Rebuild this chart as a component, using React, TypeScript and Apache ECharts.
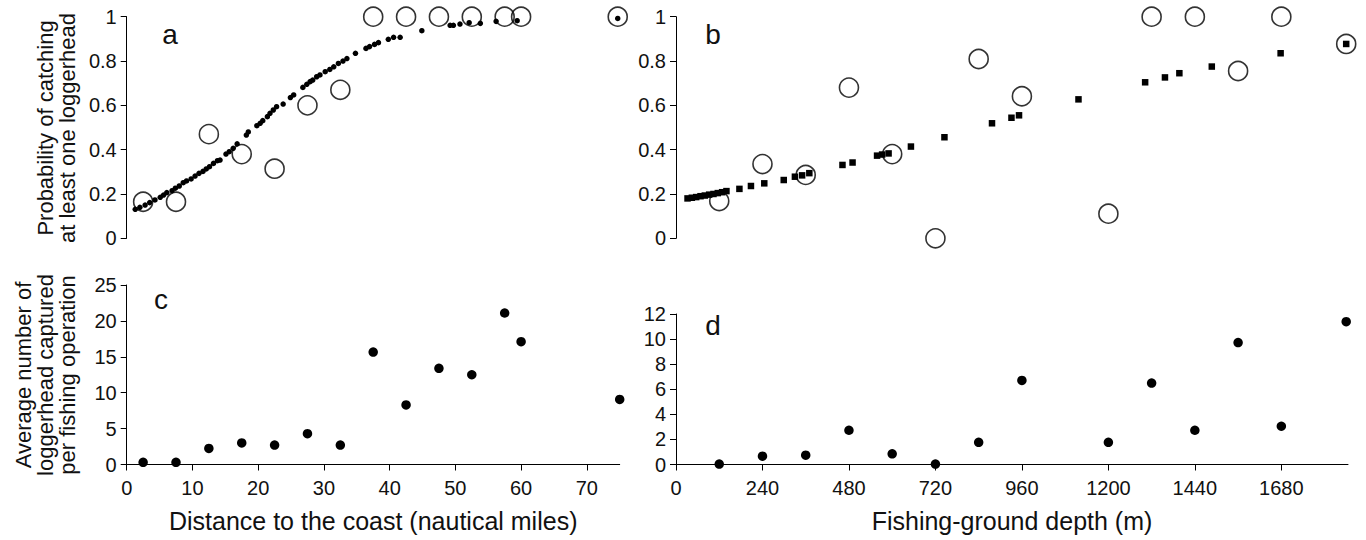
import React, { useEffect, useRef } from "react";
import * as echarts from "echarts";

// Panel a: probability vs distance to coast
const distObserved: [number, number][] = [
  [2.5, 0.165], [7.5, 0.165], [12.5, 0.47], [17.5, 0.38], [22.5, 0.314],
  [27.5, 0.6], [32.5, 0.67], [37.5, 1], [42.5, 1], [47.5, 1], [52.5, 1],
  [57.5, 1], [60, 1], [74.7, 1],
];
const distFitted: [number, number][] = [
  [1.3, 0.131], [2.0, 0.14], [2.8, 0.15], [3.5, 0.161], [4.3, 0.173], [5.1, 0.185],
  [5.6, 0.195], [6.1, 0.206], [6.9, 0.215], [7.4, 0.226], [8.0, 0.236], [8.6, 0.251],
  [9.1, 0.259], [9.8, 0.268], [10.4, 0.281], [11.0, 0.293], [11.6, 0.302], [12.1, 0.313],
  [12.6, 0.323], [13.2, 0.338], [13.8, 0.35], [14.2, 0.353], [15.1, 0.38], [15.6, 0.391],
  [16.2, 0.406], [16.8, 0.426], [18.2, 0.466], [18.5, 0.48], [19.8, 0.508], [20.3, 0.519],
  [20.7, 0.531], [21.4, 0.549], [21.8, 0.564], [22.3, 0.579], [22.8, 0.594], [23.8, 0.606],
  [24.9, 0.635], [25.4, 0.647], [26.8, 0.681], [27.4, 0.695], [27.9, 0.707], [28.3, 0.714],
  [28.9, 0.729], [29.4, 0.737], [30.2, 0.752], [30.9, 0.762], [31.5, 0.774], [32.2, 0.789],
  [32.9, 0.8], [33.5, 0.811], [34.8, 0.835], [36.4, 0.857], [36.95, 0.865], [37.7, 0.875],
  [38.3, 0.883], [39.8, 0.898], [40.6, 0.907], [41.6, 0.907], [44.9, 0.937], [49.2, 0.961],
  [49.7, 0.961], [50.7, 0.967], [52.1, 0.973], [53.8, 0.97], [56.2, 0.979], [59.4, 0.982],
  [74.7, 0.992],
];

// Panel b: probability vs depth
const depthObserved: [number, number][] = [
  [120, 0.168], [240, 0.335], [360, 0.286], [480, 0.68], [600, 0.38], [720, 0.0],
  [840, 0.809], [960, 0.641], [1200, 0.111], [1320, 1], [1440, 1], [1560, 0.755],
  [1680, 1], [1860, 0.877],
];
const depthFitted: [number, number][] = [
  [32, 0.18], [44, 0.183], [56, 0.186], [68, 0.19], [80, 0.193], [92, 0.197],
  [104, 0.2], [116, 0.204], [128, 0.208], [140, 0.213], [176, 0.223], [208, 0.236],
  [245, 0.248], [299, 0.263], [330, 0.278], [350, 0.284], [370, 0.294], [462, 0.331],
  [490, 0.342], [558, 0.373], [572, 0.378], [590, 0.383], [652, 0.414], [745, 0.456],
  [877, 0.519], [931, 0.544], [952, 0.555], [1117, 0.627], [1302, 0.704], [1357, 0.726],
  [1397, 0.745], [1487, 0.775], [1678, 0.835], [1860, 0.877],
];

// Panel c: average catch vs distance
const catchDist: [number, number][] = [
  [2.5, 0.3], [7.5, 0.3], [12.5, 2.23], [17.5, 3.0], [22.5, 2.7], [27.5, 4.3],
  [32.5, 2.7], [37.5, 15.66], [42.5, 8.3], [47.5, 13.4], [52.5, 12.5], [57.5, 21.1],
  [60, 17.1], [75, 9.06],
];

// Panel d: average catch vs depth
const catchDepth: [number, number][] = [
  [120, 0.03], [240, 0.66], [360, 0.74], [480, 2.73], [600, 0.85], [720, 0.03],
  [840, 1.77], [960, 6.7], [1200, 1.77], [1320, 6.49], [1440, 2.73], [1560, 9.72],
  [1680, 3.05], [1860, 11.39],
];

const distTicks = [0, 10, 20, 30, 40, 50, 60, 70];
const depthTicks = [0, 240, 480, 720, 960, 1200, 1440, 1680];
const panelLetters = ["a", "b", "c", "d"];
const yTitleTop = ["Probability of catching", "at least one loggerhead"];
const yTitleBottom = ["Average number of", "loggerhead captured", "per fishing operation"];
const xTitleDist = "Distance to the coast (nautical miles)";
const xTitleDepth = "Fishing-ground depth (m)";

const FONT = "'Liberation Sans', Arial, Helvetica, sans-serif";
const INK = "#111";

export default function App() {
  const ref = useRef<HTMLDivElement>(null);

  useEffect(() => {
    if (!ref.current) return;
    const chart = echarts.init(ref.current, undefined, { renderer: "svg" });

    const fmt = (v: number) => String(Math.round(v * 1000) / 1000);
    const axisLine = { show: true, lineStyle: { color: "#000", width: 1 } };
    const axisTick = { show: true, inside: false, length: 6, lineStyle: { color: "#000", width: 1 } };
    const axisLabel = { color: INK, fontSize: 20, fontFamily: FONT, margin: 10, formatter: fmt };

    const yAxisBase = (gridIndex: number, max: number, interval: number) => ({
      type: "value",
      gridIndex,
      min: 0,
      max,
      interval,
      axisLine,
      axisTick,
      axisLabel,
      splitLine: { show: false },
    });

    const xAxisVisible = (gridIndex: number, max: number, ticks: number[], name: string) => ({
      type: "value",
      gridIndex,
      min: 0,
      max,
      axisLine: { ...axisLine, onZero: false },
      axisTick: { ...axisTick, customValues: ticks },
      axisLabel: { ...axisLabel, margin: 13, customValues: ticks },
      splitLine: { show: false },
      name,
      nameLocation: "middle",
      nameGap: 44,
      nameTextStyle: { color: INK, fontSize: 25, fontFamily: FONT },
    });

    const openCircle = {
      symbol: "circle",
      symbolSize: 19,
      itemStyle: { color: "rgba(0,0,0,0)", borderColor: "#000", borderWidth: 1.6 },
    };

    const textEl = (text: string, x: number, y: number, size: number, rotation = 0) => ({
      type: "text",
      x,
      y,
      rotation,
      silent: true,
      style: {
        text,
        font: `${size}px ${FONT}`,
        fill: INK,
        textAlign: "center",
        textVerticalAlign: "middle",
        align: "center",
        verticalAlign: "middle",
      },
    });

    const letterPos = [
      [170, 34],
      [713, 34],
      [161, 299],
      [713, 325],
    ];

    const graphics: any[] = [];
    panelLetters.forEach((l, i) => graphics.push(textEl(l, letterPos[i][0], letterPos[i][1], 28)));
    yTitleTop.forEach((t, i) => graphics.push(textEl(t, 45 + i * 22, 128, 22, Math.PI / 2)));
    yTitleBottom.forEach((t, i) => graphics.push(textEl(t, 23 + i * 22, 375, 22, Math.PI / 2)));

    chart.setOption({
      animation: false,
      backgroundColor: "#fff",
      grid: [
        { left: 126.7, top: 16.7, width: 493, height: 221.6 },
        { left: 676, top: 16.7, width: 672, height: 221.6 },
        { left: 126.7, top: 285, width: 493, height: 179.5 },
        { left: 676, top: 314, width: 672, height: 150.5 },
      ],
      xAxis: [
        { type: "value", gridIndex: 0, min: 0, max: 75, show: false },
        { type: "value", gridIndex: 1, min: 0, max: 1865, show: false },
        xAxisVisible(2, 75, distTicks, xTitleDist),
        xAxisVisible(3, 1865, depthTicks, xTitleDepth),
      ],
      yAxis: [
        yAxisBase(0, 1, 0.2),
        yAxisBase(1, 1, 0.2),
        yAxisBase(2, 25, 5),
        yAxisBase(3, 12, 2),
      ],
      series: [
        { type: "scatter", xAxisIndex: 0, yAxisIndex: 0, data: distObserved, clip: false, silent: true, ...openCircle },
        { type: "scatter", xAxisIndex: 0, yAxisIndex: 0, data: distFitted, clip: false, silent: true, symbol: "circle", symbolSize: 5.5, itemStyle: { color: "#000", opacity: 1 } },
        { type: "scatter", xAxisIndex: 1, yAxisIndex: 1, data: depthObserved, clip: false, silent: true, ...openCircle },
        { type: "scatter", xAxisIndex: 1, yAxisIndex: 1, data: depthFitted, clip: false, silent: true, symbol: "rect", symbolSize: 6.5, itemStyle: { color: "#000", opacity: 1 } },
        { type: "scatter", xAxisIndex: 2, yAxisIndex: 2, data: catchDist, clip: false, silent: true, symbol: "circle", symbolSize: 9.5, itemStyle: { color: "#000", opacity: 1 } },
        { type: "scatter", xAxisIndex: 3, yAxisIndex: 3, data: catchDepth, clip: false, silent: true, symbol: "circle", symbolSize: 9.5, itemStyle: { color: "#000", opacity: 1 } },
      ],
      graphic: graphics,
    });

    return () => chart.dispose();
  }, []);

  return (
    <div
      ref={ref}
      style={{ position: "fixed", left: 0, top: 0, width: 1366, height: 540, background: "#fff" }}
    />
  );
}
